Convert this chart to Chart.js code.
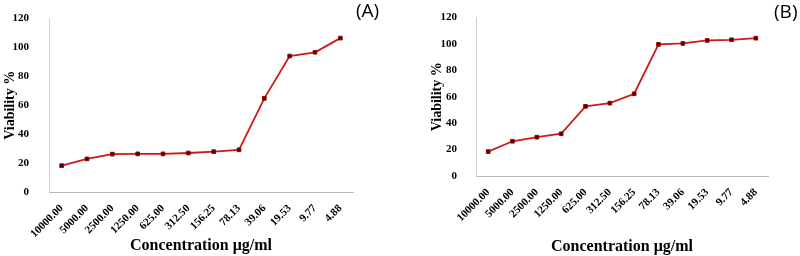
<!DOCTYPE html>
<html>
<head>
<meta charset="utf-8">
<script src="https://cdn.jsdelivr.net/npm/chart.js@4/dist/chart.umd.min.js"></script>
<style>
  html, body { margin: 0; padding: 0; background: #fff; }
  #wrap { position: relative; width: 800px; height: 256px; overflow: hidden; }
  .panel { position: absolute; top: 0; width: 400px; height: 256px; }
  .tag { position: absolute; font-family: "Open Sans", "Liberation Sans", sans-serif; font-size: 19px; color: #000; line-height: 1; }
</style>
</head>
<body>
<div id="wrap">
  <div class="panel" style="left:0"><canvas id="cA" width="400" height="256"></canvas></div>
  <div class="panel" style="left:400px"><canvas id="cB" width="400" height="256"></canvas></div>
  <div class="tag" style="left:356px; top:1px;">(A)</div>
  <div class="tag" style="left:774px; top:2px;">(B)</div>
</div>
<script>
const categories = ["10000.00","5000.00","2500.00","1250.00","625.00","312.50","156.25","78.13","39.06","19.53","9.77","4.88"];
const viabilityA = [18.2, 22.9, 26.2, 26.4, 26.4, 27.0, 27.9, 29.2, 64.8, 94.1, 96.7, 106.5];
const viabilityB = [18.5, 26.3, 29.4, 32.0, 52.8, 55.2, 62.3, 99.7, 100.4, 102.7, 103.2, 104.4];
const yTicks = [0, 20, 40, 60, 80, 100, 120];
const xTitle = "Concentration μg/ml";
const yTitle = "Viability %";

function makeChart(id, data, cfg) {
  const serif = "'Liberation Serif', 'DejaVu Serif', serif";
  return new Chart(document.getElementById(id), {
    type: 'line',
    data: {
      labels: categories,
      datasets: [{
        data: data,
        borderColor: '#cc1a1a',
        borderWidth: 1.8,
        pointStyle: 'rect',
        pointRadius: 2.6,
        pointBackgroundColor: '#3c0808',
        pointBorderColor: '#a00000',
        pointBorderWidth: 1,
        tension: 0,
        fill: false
      }]
    },
    options: {
      responsive: false,
      animation: false,
      devicePixelRatio: 1,
      layout: { padding: { left: cfg.padLeft, right: cfg.padRight, top: cfg.padTop, bottom: 0 } },
      plugins: { legend: { display: false }, tooltip: { enabled: false } },
      scales: {
        x: {
          type: 'category',
          offset: true,
          grid: { display: false },
          border: { display: true, color: '#b8b8b8', width: 1 },
          ticks: {
            autoSkip: false, maxRotation: 45, minRotation: 45, padding: 2,
            color: '#000', font: { family: serif, size: 11, weight: 'bold' }
          },
          title: {
            display: true, text: xTitle, color: '#000',
            padding: { top: 0, bottom: cfg.xTitlePad },
            font: { family: serif, size: 16, weight: 'bold' }
          },
          afterFit: s => { s.height = cfg.xHeight; }
        },
        y: {
          min: 0, max: 120,
          grid: { display: false },
          border: { display: true, color: '#d0d0d0', width: 1 },
          afterBuildTicks: s => { s.ticks = yTicks.map(v => ({ value: v })); },
          ticks: {
            padding: cfg.yTickPad, color: '#000',
            font: { family: serif, size: 11, weight: 'bold' }
          },
          title: {
            display: true, text: yTitle, color: '#000',
            padding: { top: 2, bottom: 0 },
            font: { family: serif, size: 14, weight: 'bold' }
          },
          afterFit: s => { s.width = cfg.yWidth; }
        }
      }
    }
  });
}

makeChart('cA', viabilityA, { padLeft: 0, padRight: 47, padTop: 7, xHeight: 64, yWidth: 49, yTickPad: 12, xTitlePad: 1 });
makeChart('cB', viabilityB, { padLeft: 27, padRight: 32, padTop: 7, xHeight: 80, yWidth: 49, yTickPad: 11, xTitlePad: 0 });
</script>
</body>
</html>
